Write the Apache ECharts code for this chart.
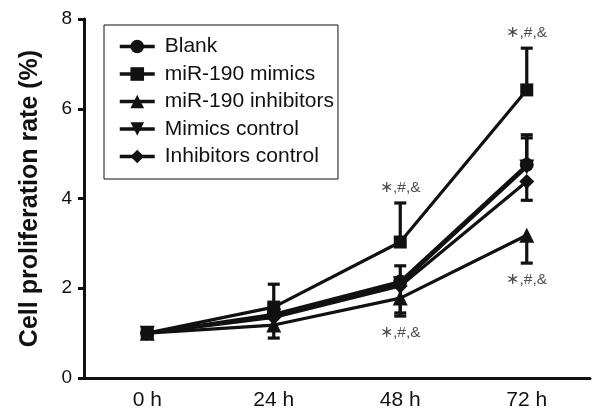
<!DOCTYPE html>
<html><head><meta charset="utf-8">
<script src="https://cdn.jsdelivr.net/npm/echarts@6/dist/echarts.min.js"></script>
<style>html,body{margin:0;padding:0;background:#fff}#c{width:594px;height:413px}</style>
</head><body><div id="c"></div>
<script>
const categories = ['0 h', '24 h', '48 h', '72 h'];
const seriesNames = ['Blank', 'miR-190 mimics', 'miR-190 inhibitors', 'Mimics control', 'Inhibitors control'];
const blank = [1.00, 1.42, 2.15, 4.75];
const mimics = [1.00, 1.58, 3.03, 6.42];
const inhibitors = [1.00, 1.18, 1.78, 3.18];
const mimicsControl = [1.00, 1.38, 2.10, 4.70];
const inhibitorsControl = [1.00, 1.35, 2.05, 4.38];
// error bar ends (null = none drawn)
const blankErr = [null, null, 2.50, 5.42];
const mimicsErr = [null, 2.09, 3.90, 7.35];
const inhibitorsErr = [null, 0.89, 1.38, 2.56];
const mimicsControlErr = [null, null, null, 5.35];
const inhibitorsControlErr = [null, null, 1.45, 3.96];
// significance annotations: [category index, value, text, side]
const annotations = [[3, 7.35, '∗,#,&', 'top'], [3, 2.56, '∗,#,&', 'bottom'], [2, 3.90, '∗,#,&', 'top'], [2, 1.38, '∗,#,&', 'bottom']];
const yTicks = [0, 2, 4, 6, 8];

const values = [blank, mimics, inhibitors, mimicsControl, inhibitorsControl];
const errs = [blankErr, mimicsErr, inhibitorsErr, mimicsControlErr, inhibitorsControlErr];
const symbols = ['circle', 'rect', 'triangle', 'path://M0,0 L10,0 L5,9 Z', 'path://M5,0 L10,5 L5,10 L0,5 Z'];
const sizes = [14, 13, 15, 15, 15];

const errData = [];
values.forEach((v, s) => errs[s].forEach((e, i) => { if (e !== null) errData.push([i, v[i], e]); }));

const series = values.map((v, s) => ({
  name: seriesNames[s], type: 'line', data: v, symbol: symbols[s], symbolSize: sizes[s],
  lineStyle: { color: '#111', width: 3.2 }, itemStyle: { color: '#111' }, z: 3, animation: false
}));
series.push({
  type: 'custom', data: errData, z: 2, animation: false, silent: true,
  renderItem: function (params, api) {
    const a = api.coord([api.value(0), api.value(1)]);
    const b = api.coord([api.value(0), api.value(2)]);
    const w = 6;
    const st = { stroke: '#111', lineWidth: 3.2 };
    return { type: 'group', children: [
      { type: 'line', shape: { x1: a[0], y1: a[1], x2: b[0], y2: b[1] }, style: st },
      { type: 'line', shape: { x1: b[0] - w, y1: b[1], x2: b[0] + w, y2: b[1] }, style: st }
    ]};
  }
});
series.push({
  type: 'scatter', symbolSize: 0, animation: false, silent: true,
  data: annotations.map(a => ({ value: [a[0], a[1]], label: { show: true, position: a[3], distance: a[3] === 'top' ? 7 : 9, formatter: a[2], color: '#222', fontSize: 15.5, fontFamily: 'Liberation Sans' } }))
});

const chart = echarts.init(document.getElementById('c'));
chart.setOption({
  backgroundColor: '#fff',
  animation: false,
  grid: { left: 84, right: 4, top: 19, bottom: 35 },
  legend: {
    orient: 'vertical', left: 104, top: 25, data: seriesNames,
    itemWidth: 35, itemHeight: 17, itemGap: 6.5,
    padding: [11, 4, 12, 14],
    borderColor: '#111', borderWidth: 1,
    lineStyle: { width: 3.5 },
    textStyle: { fontSize: 21, color: '#111', fontFamily: 'Liberation Sans', padding: [0, 0, 0, 5] }
  },
  xAxis: {
    type: 'category', data: categories, boundaryGap: true,
    axisLine: { lineStyle: { color: '#111', width: 3 } },
    axisTick: { alignWithLabel: true, length: 6, lineStyle: { color: '#111', width: 3 } },
    axisLabel: { fontSize: 21, color: '#111', fontFamily: 'Liberation Sans', margin: 12 },
    splitLine: { show: false }
  },
  yAxis: {
    type: 'value', min: yTicks[0], max: yTicks[yTicks.length - 1], interval: 2,
    name: 'Cell proliferation rate (%)', nameLocation: 'middle', nameGap: 41,
    nameTextStyle: { fontSize: 25, fontWeight: 'bold', color: '#111', fontFamily: 'Liberation Sans' },
    axisLine: { show: true, lineStyle: { color: '#111', width: 3 } },
    axisTick: { show: true, length: 6, lineStyle: { color: '#111', width: 3 } },
    axisLabel: { fontSize: 19, color: '#111', fontFamily: 'Liberation Sans', margin: 12 },
    splitLine: { show: false }
  },
  series: series
});
</script></body></html>
